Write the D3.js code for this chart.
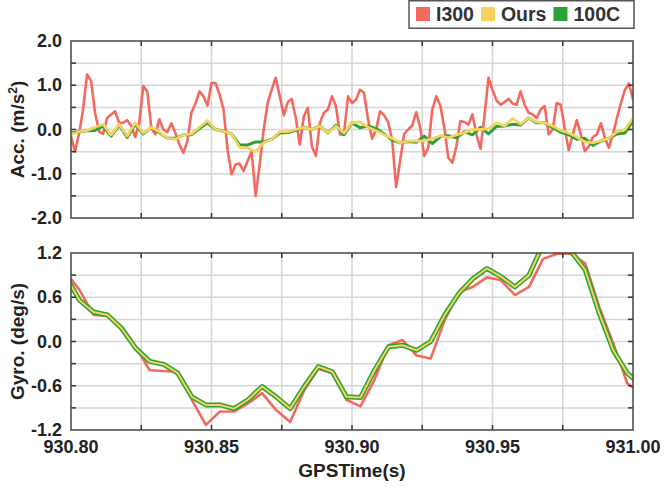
<!DOCTYPE html>
<html>
<head>
<meta charset="utf-8">
<script src="https://cdn.jsdelivr.net/npm/d3@7"></script>
<style>
  body { margin: 0; background: #fff; }
  text { font-family: "Liberation Sans", Arial, sans-serif; font-weight: bold; }
</style>
</head>
<body>
<div id="viz"></div>
<script>
// ---- data ----
let seriesNames = ["I300", "Ours", "100C"];
let seriesColors = ["#f4695e", "#f7d25c", "#2ba13a"];

// acceleration (m/s^2), red sampled every 0.2/140 s, the smooth ones every 0.2/70 s
let accStart = 930.80;
let accI300 = [
  -0.15, -0.5, -0.1, 0.45, 1.25, 1.1, 0.38, -0.05, -0.1, 0.26,
  0.34, 0.41, 0.15, 0.15, 0.21, 0.08, -0.17, 0.15, 0.98, 0.86,
  0.04, -0.11, 0.23, 0.0, -0.06, 0.14, -0.08, -0.34, -0.53, -0.26,
  0.38, 0.59, 0.86, 0.75, 0.54, 1.05, 1.05, 0.8, 0.45, -0.45,
  -1.01, -0.79, -0.77, -0.94, -0.71, -0.5, -1.5, -0.8, 0.0, 0.6,
  0.9, 1.17, 0.75, 0.32, 0.62, 0.69, 0.26, -0.34, 0.3, 0.49,
  -0.38, -0.6, 0.15, 0.38, 0.45, 0.75, 0.53, -0.11, -0.11, 0.75,
  0.6, 0.68, 0.9, 0.83, 0.23, -0.21, 0.0, 0.41, 0.32, 0.17,
  -0.23, -1.3, -0.7, -0.1, 0.0, 0.09, 0.39, 0.04, -0.6, -0.41,
  0.45, 0.75, 0.54, 0.04, -0.64, -0.75, -0.38, 0.19, 0.17, 0.11,
  0.34, -0.11, -0.44, 0.3, 1.17, 0.9, 0.66, 0.56, 0.62, 0.69,
  0.59, 0.56, 0.86, 0.56, 0.38, 0.34, 0.26, 0.45, 0.53, -0.11,
  0.0, 0.6, 0.56, 0.02, -0.47, -0.11, 0.21, -0.11, -0.49, -0.38,
  -0.17, -0.11, 0.14, -0.19, -0.41, -0.11, 0.26, 0.6, 0.9, 1.04,
  0.68
];
let accOurs = [
  -0.11, -0.05, -0.02, 0.05, 0.12, -0.12, 0.12, -0.15, 0.15, -0.08,
  0.05, -0.05, -0.2, -0.22, -0.12, -0.1, 0.05, 0.2, 0.0, -0.04,
  -0.1, -0.4, -0.42, -0.5, -0.3, -0.22, -0.05, -0.05, 0.0, 0.05,
  0.0, 0.08, -0.08, 0.08, -0.08, 0.15, 0.17, 0.05, -0.03, -0.12,
  -0.2, -0.3, -0.26, -0.26, -0.25, -0.21, -0.14, -0.19, -0.12, -0.07,
  0.0, 0.0, 0.02, 0.15, 0.08, 0.25, 0.12, 0.26, 0.17, 0.15,
  0.08, -0.02, -0.08, -0.17, -0.28, -0.3, -0.25, -0.2, -0.05, 0.0,
  0.26
];
let acc100C = [
  -0.08, -0.05, -0.03, -0.02, 0.08, -0.15, 0.1, -0.18, 0.12, -0.1,
  0.05, -0.07, -0.2, -0.2, -0.12, -0.12, 0.02, 0.15, 0.0, -0.04,
  -0.1, -0.35, -0.35, -0.28, -0.28, -0.22, -0.08, -0.07, -0.02, 0.05,
  0.0, 0.08, -0.08, 0.1, -0.12, 0.15, 0.04, 0.08, 0.02, -0.1,
  -0.24, -0.3, -0.27, -0.29, -0.15, -0.32, -0.16, -0.14, -0.19, -0.05,
  -0.12, 0.05, -0.1, 0.07, 0.08, 0.12, 0.1, 0.26, 0.15, 0.15,
  0.04, -0.06, -0.12, -0.22, -0.2, -0.36, -0.26, -0.2, -0.1, -0.08,
  0.2
];

// angular rate (deg/s), every 0.005 s
let gyroStart = 930.798;
let gyroStep = 0.005;
let gyroI300 = [
  0.95, 0.7, 0.36, 0.35, 0.2, -0.07, -0.39, -0.4, -0.41, -0.79,
  -1.13, -0.95, -0.95, -0.84, -0.7, -0.93, -1.09, -0.66, -0.37, -0.43,
  -0.79, -0.88, -0.52, -0.05, 0.02, -0.19, -0.23, 0.29, 0.67, 0.74,
  0.87, 0.83, 0.63, 0.74, 1.12, 1.19, 1.19, 1.06, 0.47, -0.03,
  -0.57, -0.7
];
let gyroOurs = [
  0.9, 0.56, 0.4, 0.36, 0.18, -0.09, -0.27, -0.31, -0.43, -0.75,
  -0.86, -0.86, -0.91, -0.79, -0.61, -0.75, -0.91, -0.61, -0.34, -0.41,
  -0.75, -0.76, -0.39, -0.07, -0.05, -0.12, 0.0, 0.36, 0.65, 0.85,
  0.99, 0.88, 0.74, 0.9, 1.32, 1.35, 1.22, 0.97, 0.38, -0.12,
  -0.43, -0.6
];
let gyro100C = [
  0.9, 0.56, 0.4, 0.36, 0.18, -0.09, -0.27, -0.31, -0.43, -0.75,
  -0.86, -0.86, -0.91, -0.79, -0.61, -0.75, -0.91, -0.61, -0.34, -0.41,
  -0.75, -0.76, -0.39, -0.07, -0.05, -0.12, 0.0, 0.36, 0.65, 0.85,
  0.99, 0.88, 0.74, 0.9, 1.32, 1.35, 1.22, 0.97, 0.38, -0.12,
  -0.43, -0.6
];

let xTicks = [930.80, 930.85, 930.90, 930.95, 931.00];
let accTicks = [-2, -1, 0, 1, 2];
let gyroTicks = [-1.2, -0.6, 0, 0.6, 1.2];

// ---- layout ----
let w = 664;
let h = 487;
let left = 71;
let right = 633;
let span = 0.2;

// plain hyphen for negatives, like the original figure
let fmt = d3.formatLocale({ decimal: ".", thousands: ",", grouping: [3], currency: ["", ""], minus: "-" });

let toPoints = (vals, start, step) => vals.map((v, i) => ({ t: start + i * step, v: v }));

let viz = d3.select("#viz")
  .append("svg")
  .attr("width", w)
  .attr("height", h)
  .style("background", "#fff");

let x = d3.scaleLinear().domain([930.80, 931.00]).range([left, right]);
let xGrid = d3.range(0, 9).map(i => 930.80 + i * 0.025);

let panels = [
  {
    id: "acc", top: 41, bottom: 218, domain: [-2, 2], labels: accTicks, minor: 0.5,
    lines: [
      { data: toPoints(accI300, accStart, span / 140), color: seriesColors[0], width: 2.6 },
      { data: toPoints(acc100C, accStart, span / 70), color: seriesColors[2], width: 3 },
      { data: toPoints(accOurs, accStart, span / 70), color: seriesColors[1], width: 2.8 }
    ]
  },
  {
    id: "gyro", top: 253, bottom: 430, domain: [-1.2, 1.2], labels: gyroTicks, minor: 0.3,
    lines: [
      { data: toPoints(gyroI300, gyroStart, gyroStep), color: seriesColors[0], width: 2.6 },
      { data: toPoints(gyro100C, gyroStart, gyroStep), color: seriesColors[2], width: 5 },
      { data: toPoints(gyroOurs, gyroStart, gyroStep), color: seriesColors[1], width: 2 }
    ]
  }
];

panels.forEach(p => {
  let y = d3.scaleLinear().domain(p.domain).range([p.bottom, p.top]);
  let n = Math.round((p.domain[1] - p.domain[0]) / p.minor);
  let yGrid = d3.range(0, n + 1).map(i => p.domain[0] + i * p.minor);
  let g = viz.append("g").attr("class", "panel " + p.id);

  // grid
  g.selectAll(".hgrid").data(yGrid.slice(1, -1)).enter().append("line")
    .attr("x1", left).attr("x2", right)
    .attr("y1", d => y(d)).attr("y2", d => y(d))
    .attr("stroke", "#d6d6d6").attr("stroke-width", 1.5);
  g.selectAll(".vgrid").data(xGrid.slice(1, -1)).enter().append("line")
    .attr("y1", p.top).attr("y2", p.bottom)
    .attr("x1", d => x(d)).attr("x2", d => x(d))
    .attr("stroke", "#d6d6d6").attr("stroke-width", 1.5);

  // lines
  viz.append("clipPath").attr("id", "clip-" + p.id)
    .append("rect").attr("x", left).attr("y", p.top)
    .attr("width", right - left).attr("height", p.bottom - p.top);
  let line = d3.line().x(d => x(d.t)).y(d => y(d.v));
  let lg = g.append("g").attr("clip-path", "url(#clip-" + p.id + ")");
  p.lines.forEach(s => {
    lg.append("path").datum(s.data)
      .attr("d", line)
      .attr("fill", "none")
      .attr("stroke", s.color)
      .attr("stroke-width", s.width)
      .attr("stroke-linejoin", "round");
  });

  // inward ticks on all four sides
  let tk = g.append("g").attr("stroke", "#333").attr("stroke-width", 1.5);
  yGrid.slice(1, -1).forEach(v => {
    tk.append("line").attr("x1", left).attr("x2", left + 5).attr("y1", y(v)).attr("y2", y(v));
    tk.append("line").attr("x1", right - 5).attr("x2", right).attr("y1", y(v)).attr("y2", y(v));
  });
  xGrid.slice(1, -1).forEach(t => {
    tk.append("line").attr("x1", x(t)).attr("x2", x(t)).attr("y1", p.top).attr("y2", p.top + 5);
    tk.append("line").attr("x1", x(t)).attr("x2", x(t)).attr("y1", p.bottom - 5).attr("y2", p.bottom);
  });

  // frame
  g.append("rect")
    .attr("x", left).attr("y", p.top)
    .attr("width", right - left).attr("height", p.bottom - p.top)
    .attr("fill", "none").attr("stroke", "#444").attr("stroke-width", 1.5);

  // y tick labels
  g.selectAll(".ylab").data(p.labels).enter().append("text")
    .attr("x", 62).attr("y", d => y(d))
    .attr("text-anchor", "end")
    .attr("dominant-baseline", "central")
    .attr("font-size", "18px")
    .attr("fill", "#222")
    .text(d => fmt.format(".1f")(d));
});

// x tick labels (bottom panel only)
viz.selectAll(".xlab").data(xTicks).enter().append("text")
  .attr("x", d => x(d)).attr("y", 453)
  .attr("text-anchor", "middle")
  .attr("font-size", "18px")
  .attr("fill", "#222")
  .text(d => fmt.format(".2f")(d));

// axis titles
let accTitle = viz.append("text")
  .attr("transform", "translate(24," + (41 + 218) / 2 + ") rotate(-90)")
  .attr("text-anchor", "middle")
  .attr("font-size", "19px")
  .attr("fill", "#222");
accTitle.append("tspan").text("Acc. (m/s");
accTitle.append("tspan").attr("dy", -7).attr("font-size", "12px").text("2");
accTitle.append("tspan").attr("dy", 7).text(")");

viz.append("text")
  .attr("transform", "translate(24," + (253 + 430) / 2 + ") rotate(-90)")
  .attr("text-anchor", "middle")
  .attr("font-size", "19px")
  .attr("fill", "#222")
  .text("Gyro. (deg/s)");

viz.append("text")
  .attr("x", (left + right) / 2).attr("y", 477)
  .attr("text-anchor", "middle")
  .attr("font-size", "19px")
  .attr("fill", "#222")
  .text("GPSTime(s)");

// legend
let legend = viz.append("g").attr("class", "legend");
legend.append("rect")
  .attr("x", 409).attr("y", 0.75).attr("width", 225).attr("height", 27.5)
  .attr("fill", "#fff").attr("stroke", "#555").attr("stroke-width", 1.5);
let lx = 416;
seriesNames.forEach((name, i) => {
  legend.append("rect")
    .attr("x", lx).attr("y", 7).attr("width", 14).attr("height", 14)
    .attr("fill", seriesColors[i]);
  let t = legend.append("text")
    .attr("x", lx + 20).attr("y", 21)
    .attr("font-size", "19.5px")
    .attr("fill", "#333")
    .text(name);
  lx += 20 + t.node().getComputedTextLength() + 7;
});
</script>
</body>
</html>
